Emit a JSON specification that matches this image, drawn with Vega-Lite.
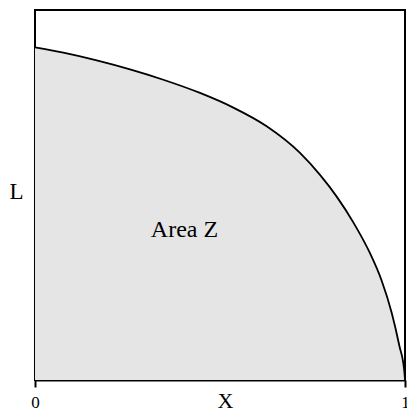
{
  "$schema": "https://vega.github.io/schema/vega-lite/v6.json",
  "width": 370,
  "height": 370,
  "autosize": {"type": "none"},
  "padding": {"left": 35, "top": 10, "right": 2, "bottom": 30},
  "config": {
    "font": "Liberation Serif",
    "view": {"stroke": "black", "strokeWidth": 2},
    "axis": {"grid": false}
  },
  "datasets": {
    "curve": [
      {"x": 0, "y": 0.899},
      {"x": 0.0765, "y": 0.8845},
      {"x": 0.1668, "y": 0.8637},
      {"x": 0.2568, "y": 0.8394},
      {"x": 0.3468, "y": 0.8115},
      {"x": 0.4459, "y": 0.7758},
      {"x": 0.536, "y": 0.7362},
      {"x": 0.6262, "y": 0.6857},
      {"x": 0.7162, "y": 0.6137},
      {"x": 0.7703, "y": 0.5542},
      {"x": 0.8154, "y": 0.4956},
      {"x": 0.8603, "y": 0.426},
      {"x": 0.9054, "y": 0.3426},
      {"x": 0.937, "y": 0.2683},
      {"x": 0.964, "y": 0.1819},
      {"x": 0.9846, "y": 0.0933},
      {"x": 0.998, "y": 0.025},
      {"x": 1, "y": 0}
    ],
    "labels": [
      {"x": 0.404, "y": 0.386, "label": "Area Z"}
    ]
  },
  "layer": [
    {
      "data": {"name": "curve"},
      "mark": {"type": "area", "fill": "#e5e5e5", "opacity": 1, "fillOpacity": 1, "interpolate": "monotone", "line": {"color": "black", "strokeWidth": 1.8}},
      "encoding": {
        "x": {
          "field": "x", "type": "quantitative",
          "scale": {"domain": [0, 1], "nice": false},
          "axis": {
            "values": [0, 1], "format": "d", "title": "X",
            "domainColor": "black", "domainWidth": 2,
            "tickColor": "black", "tickWidth": 2, "tickSize": 7,
            "labelFontSize": 17, "labelColor": "black", "labelFlush": false,
            "labelBaseline": "alphabetic", "labelPadding": 20,
            "titleFontSize": 22, "titleFontWeight": "normal", "titleColor": "black",
            "titleBaseline": "alphabetic", "titleAlign": "center", "titleX": 190, "titleY": 27
          }
        },
        "y": {
          "field": "y", "type": "quantitative",
          "scale": {"domain": [0, 1], "nice": false},
          "axis": {
            "values": [], "labels": false, "ticks": false, "domain": false,
            "title": "L", "titleAngle": 0, "titleFontSize": 23, "titleFontWeight": "normal",
            "titleColor": "black", "titleX": -19, "titleY": 181, "titleAlign": "center", "titleBaseline": "middle"
          }
        }
      }
    },
    {
      "data": {"name": "labels"},
      "mark": {"type": "text", "fontSize": 24, "color": "black", "align": "center", "baseline": "alphabetic"},
      "encoding": {
        "x": {"field": "x", "type": "quantitative"},
        "y": {"field": "y", "type": "quantitative"},
        "text": {"field": "label"}
      }
    }
  ]
}
